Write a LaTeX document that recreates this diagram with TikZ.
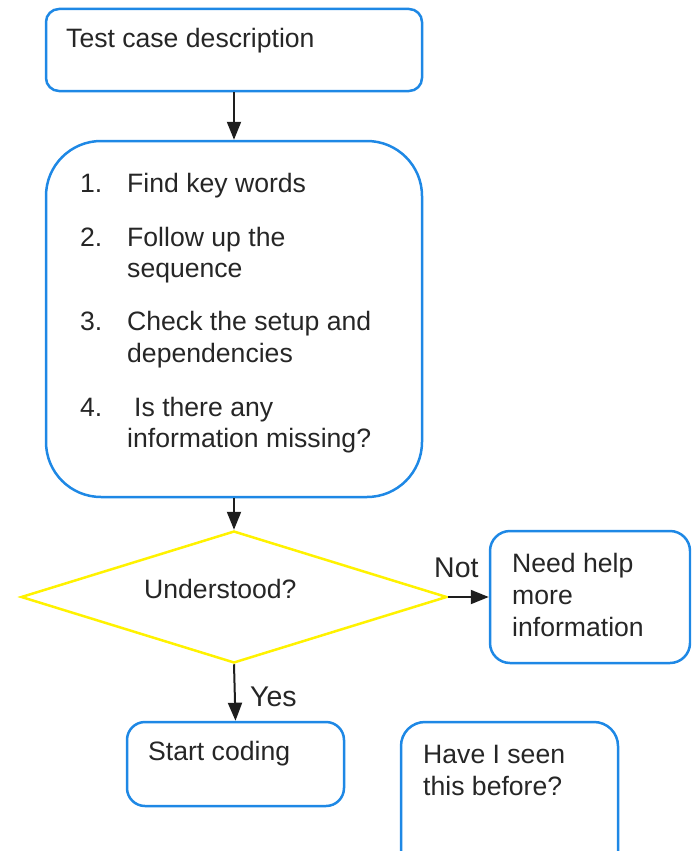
\documentclass[tikz,border=0pt]{standalone}
\usepackage{fontspec}
\setmainfont{Liberation Sans}
\usetikzlibrary{shapes.geometric,arrows.meta}
\definecolor{boxblue}{RGB}{30,136,229}
\definecolor{dyellow}{RGB}{255,242,0}
\definecolor{txt}{RGB}{38,38,38}
\begin{document}
\begin{tikzpicture}[x=1pt,y=-1pt,
  box/.style={draw=boxblue,line width=2.5pt,rectangle,inner sep=0pt},
  lbl/.style={anchor=base west,inner sep=0pt,text=txt,font=\fontsize{26.6}{31}\selectfont},
  big/.style={anchor=base west,inner sep=0pt,text=txt,font=\fontsize{28.5}{33}\selectfont},
  arr/.style={draw=txt!80!black,line width=2pt,-{Triangle[width=14pt,length=18pt]}}]
\useasboundingbox (0,0) rectangle (691,851);
\clip (0,0) rectangle (691,851);
% boxes
\node[box,rounded corners=13pt,minimum width=376pt,minimum height=82pt] (top) at (234,50) {};
\node[box,rounded corners=55pt,minimum width=376pt,minimum height=356pt] (main) at (234,319) {};
\node[draw=dyellow,line width=2.5pt,diamond,inner sep=0pt,minimum width=426pt,minimum height=132pt] (dec) at (234,597) {};
\node[box,rounded corners=20pt,minimum width=200pt,minimum height=132pt] (help) at (590,597) {};
\node[box,rounded corners=18pt,minimum width=217pt,minimum height=84pt] (start) at (235.5,764) {};
\node[box,rounded corners=24pt,minimum width=217pt,minimum height=160pt] (seen) at (509.5,802) {};
% texts
\node[lbl] (t1) at (66,48) {Test case description};
\node[lbl] (n1) at (80,192) {1.};
\node[lbl] (i1) at (127,192) {Find key words};
\node[lbl] (n2) at (80,246) {2.};
\node[lbl] (i2a) at (127,246) {Follow up the};
\node[lbl] (i2b) at (127,277) {sequence};
\node[lbl] (n3) at (80,330) {3.};
\node[lbl] (i3a) at (127,330) {Check the setup and};
\node[lbl] (i3b) at (127,362) {dependencies};
\node[lbl] (n4) at (80,416) {4.};
\node[lbl] (i4a) at (134,416) {Is there any};
\node[lbl] (i4b) at (127,447) {information missing?};
\node[lbl] (q) at (144,598) {Understood?};
\node[lbl] (h1) at (512,572) {Need help};
\node[lbl] (h2) at (512,604) {more};
\node[lbl] (h3) at (512,636) {information};
\node[lbl] (s1) at (148,760) {Start coding};
\node[lbl] (v1) at (423,763) {Have I seen};
\node[lbl] (v2) at (423,795) {this before?};
\node[big] (no) at (434,577) {Not};
\node[big] (yes) at (250,706) {Yes};
% arrows
\draw[arr] (top.south) -- (main.north);
\draw[arr] (main.south) -- (dec.north);
\draw[arr] (dec.east) -- (help.west);
\draw[arr] (dec.south) -- (start.north);
\end{tikzpicture}
\end{document}
